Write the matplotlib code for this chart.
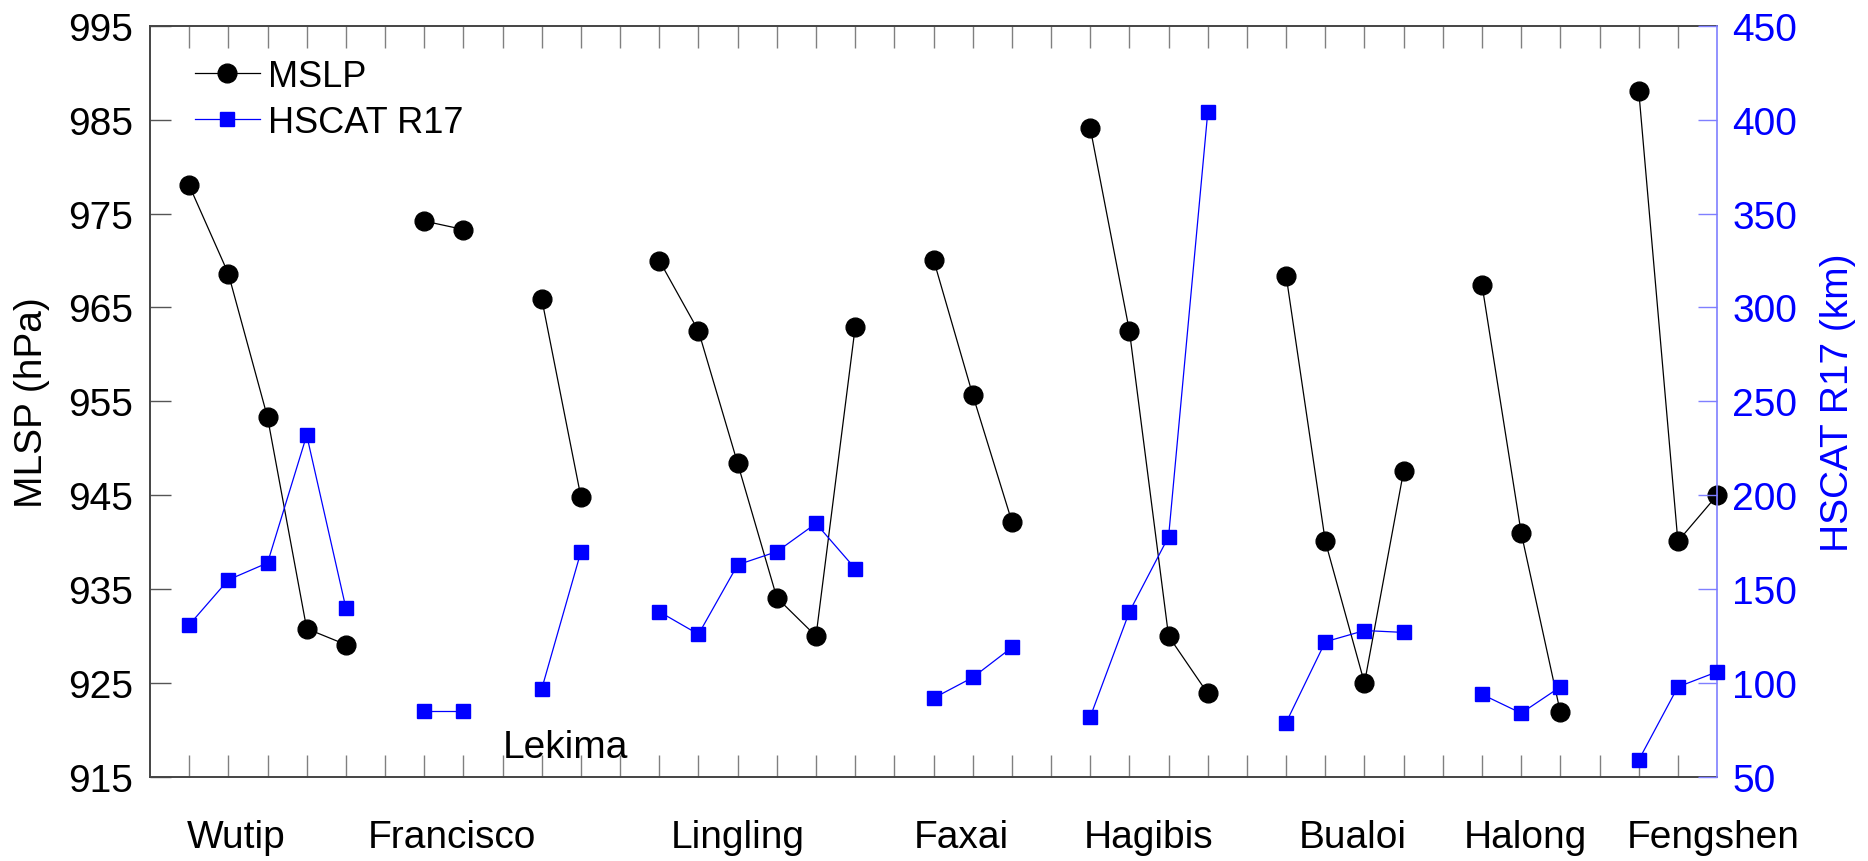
import matplotlib
matplotlib.use("Agg")
import matplotlib.pyplot as plt

plt.rcParams['font.family'] = ['Liberation Sans', 'DejaVu Sans']

# typhoon cases, samples per case in time order
storms = ["Wutip", "Francisco", "Lekima", "Lingling", "Faxai",
          "Hagibis", "Bualoi", "Halong", "Fengshen"]

mslp = [
    [978.0, 968.6, 953.3, 930.8, 929.1],
    [974.2, 973.3],
    [965.9, 944.8],
    [970.0, 962.5, 948.4, 934.1, 930.0, 962.9],
    [970.1, 955.7, 942.2],
    [984.1, 962.5, 930.0, 923.9],
    [968.4, 940.1, 925.0, 947.6],
    [967.4, 941.0, 921.9],
    [988.1, 940.1, 945.0],
]

r17 = [
    [131, 155, 164, 232, 140],
    [85, 85],
    [97, 170],
    [138, 126, 163, 170, 185, 161],
    [92, 103, 119],
    [82, 138, 178, 404],
    [79, 122, 128, 127],
    [94, 84, 98],
    [59, 98, 106],
]

# where the storm names sit along x
label_x = [2.2, 7.7, 10.6, 15.0, 20.7, 25.5, 30.7, 35.1, 39.9]

fig = plt.figure(figsize=(18.68, 8.62), dpi=100)
ax = fig.add_axes([0.0803, 0.0974, 0.8389, 0.8716])
ax2 = ax.twinx()

# each storm gets consecutive slots, with one empty slot between storms
slot = 1
for i, name in enumerate(storms):
    n = len(mslp[i])
    xs = list(range(slot, slot + n))
    h1, = ax.plot(xs, mslp[i], '-o', color='black', lw=0.9, ms=13.5,
                  clip_on=False, zorder=3)
    h2, = ax2.plot(xs, r17[i], '-s', color='blue', lw=0.9, ms=9.5,
                   clip_on=False, zorder=3)
    slot += n + 1

for i, name in enumerate(storms):
    if name == "Lekima":
        ax.text(label_x[i], 917.1, name, ha='center', va='baseline', fontsize=28)
    else:
        ax.text(label_x[i], -0.093, name, transform=ax.get_xaxis_transform(),
                ha='center', va='baseline', fontsize=28)

ax.set_xlim(0, 40)
ax.set_ylim(915, 995)
ax2.set_ylim(50, 450)

ax.set_xticks(range(1, 40))
ax.set_xticklabels([])
ax.tick_params(axis='x', direction='in', top=True, bottom=True, length=16,
               width=1, color='#808080')
ax.set_yticks(range(915, 996, 10))
ax.tick_params(axis='y', direction='in', length=15, width=1, color='#555555',
               labelsize=28, pad=12)
ax2.set_yticks(range(50, 451, 50))
ax2.tick_params(axis='y', direction='in', length=14, width=1, color='#7f7fff',
                labelcolor='blue', labelsize=28, pad=11)

for s in ['top', 'bottom', 'left']:
    ax.spines[s].set_color('#444444')
    ax.spines[s].set_linewidth(1.4)
    ax2.spines[s].set_visible(False)
ax.spines['right'].set_visible(False)
ax2.spines['right'].set_color('#7f7fff')
ax2.spines['right'].set_linewidth(1.2)

ax.set_ylabel("MLSP (hPa)", fontsize=28)
ax.yaxis.set_label_coords(-0.064, 0.5)
ax2.set_ylabel("HSCAT R17 (km)", fontsize=28, color='blue')
ax2.yaxis.set_label_coords(1.0657, 0.5)

ax2.legend([h1, h2], ["MSLP", "HSCAT R17"], loc='upper left',
           bbox_to_anchor=(0.0287, 0.956), frameon=False, fontsize=26,
           borderaxespad=0, borderpad=0, handlelength=1.8,
           handletextpad=0.22, labelspacing=0.3)

fig.savefig("out.png", dpi=100)
